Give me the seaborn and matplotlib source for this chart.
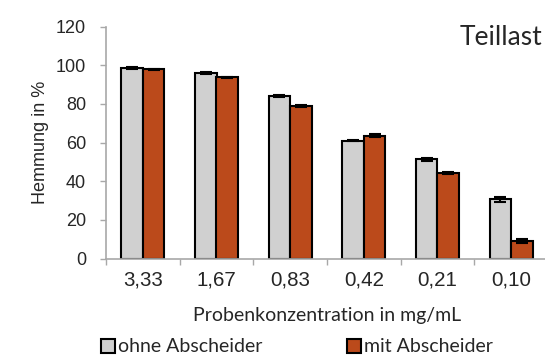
import matplotlib
matplotlib.use("Agg")
import matplotlib.pyplot as plt
from matplotlib.patches import Patch
import seaborn as sns
import pandas as pd
import numpy as np

categories = ["3,33", "1,67", "0,83", "0,42", "0,21", "0,10"]
ohne = [98.8, 96.0, 84.2, 61.0, 51.3, 30.6]
mit = [97.9, 93.9, 79.0, 63.5, 44.2, 9.0]
ohne_err = [0.5, 0.6, 0.5, 0.3, 0.6, 1.3]
mit_err = [0.3, 0.3, 0.6, 0.7, 0.7, 0.9]
series = ["ohne Abscheider", "mit Abscheider"]
colors = ["#d0d0d0", "#bb4a1b"]

sns.set_style("white")
plt.rcParams["font.family"] = ["Liberation Sans", "DejaVu Sans"]

df = pd.DataFrame({
    "Konz": categories * 2,
    "Wert": ohne + mit,
    "Serie": [series[0]] * len(categories) + [series[1]] * len(categories),
})

W, H = 545, 356
fig = plt.figure(figsize=(W / 100, H / 100), dpi=100)
ax = fig.add_axes([106 / W, 1 - 258.5 / H, 442 / W, 231.8 / H])
sns.barplot(data=df, x="Konz", y="Wert", hue="Serie", palette=colors,
            saturation=1, errorbar=None, width=0.58, edgecolor="black",
            linewidth=1.5, ax=ax, legend=False)

errs = ohne_err + mit_err
vals = ohne + mit
for p, v, e in zip(ax.patches, vals, errs):
    xc = p.get_x() + p.get_width() / 2
    ax.errorbar(xc, v, yerr=e, color="black", capsize=4, capthick=1.5,
                elinewidth=1.5, zorder=5)

ax.set_ylim(0, 120)
ax.set_xlim(-0.5, len(categories) - 0.5)
ax.set_yticks([0, 20, 40, 60, 80, 100, 120])
ax.tick_params(axis="y", labelsize=13, length=4.3, width=1, color="#a8a8a8",
               direction="out", left=True, pad=10)
ax.tick_params(axis="x", labelsize=14.8, length=0, pad=9)
ax.set_xticks(np.arange(-0.5, len(categories)), minor=True)
ax.tick_params(axis="x", which="minor", length=4.3, width=1, color="#a8a8a8",
               direction="out", bottom=True)
for s in ["top", "right"]:
    ax.spines[s].set_visible(False)
for s in ["left", "bottom"]:
    ax.spines[s].set_color("#a8a8a8")
    ax.spines[s].set_linewidth(1.2)

ax.set_ylabel("Hemmung in %", fontsize=13, labelpad=5)
ax.set_xlabel("")
fig.text(327 / W, 1 - 315 / H, "Probenkonzentration in mg/mL", ha="center",
         va="center", fontsize=14, family=["Lato", "DejaVu Sans"])

fig.text(542 / W, 1 - 45 / H, "Teillast", ha="right", va="baseline",
         fontsize=19, family=["Lato", "DejaVu Sans"])

handles = [Patch(facecolor=c, edgecolor="black", linewidth=1.5) for c in colors]
fig.legend(handles, series, loc="center left",
           bbox_to_anchor=(101 / W, 1 - 347 / H),
           ncol=2, frameon=False, handlelength=0.7, handleheight=0.7,
           handletextpad=0.15, columnspacing=4.4, borderpad=0,
           borderaxespad=0,
           prop={"family": ["Lato", "DejaVu Sans"], "size": 14})

fig.savefig("out.png", dpi=100)
